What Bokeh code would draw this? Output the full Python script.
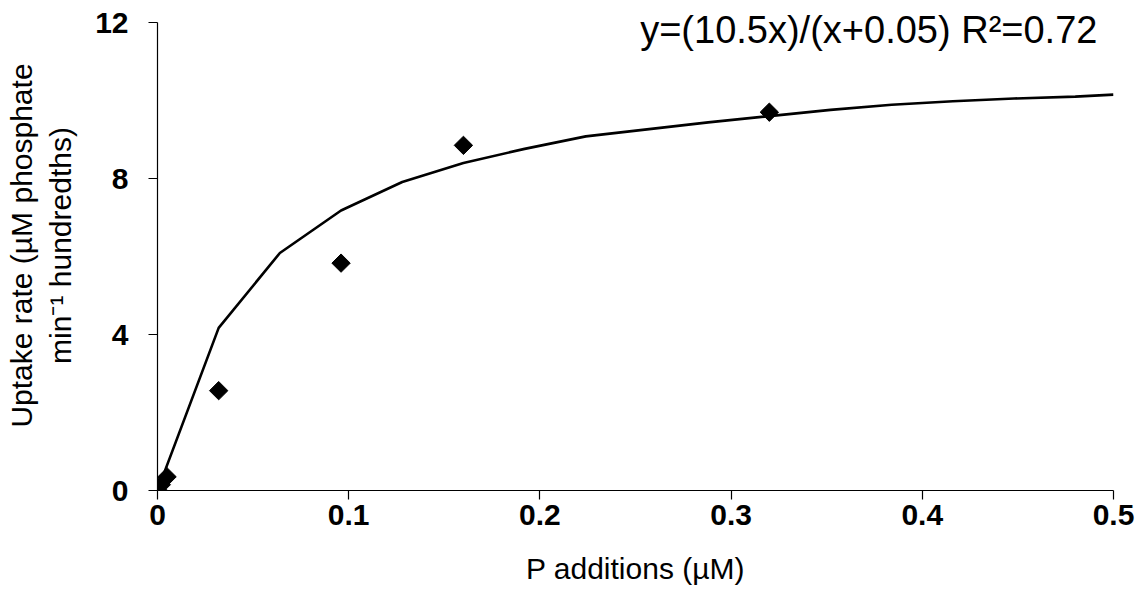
import numpy as np
from bokeh.plotting import figure
from bokeh.models import Range1d, FixedTicker, Label
from bokeh.embed import file_html
from bokeh.resources import INLINE

# Observed data points
p_add = [0.0, 0.002, 0.005, 0.032, 0.096, 0.160, 0.320]
uptake = [0.02, 0.15, 0.35, 2.56, 5.83, 8.85, 9.70]

# Fitted curve vertices
fit_x = [0, 0.032, 0.064, 0.096, 0.128, 0.160, 0.192, 0.224, 0.256, 0.288,
         0.320, 0.352, 0.384, 0.416, 0.448, 0.480, 0.500]
fit_y = [0, 4.17, 6.09, 7.18, 7.91, 8.40, 8.76, 9.08, 9.26, 9.44,
         9.60, 9.76, 9.89, 9.98, 10.05, 10.10, 10.15]

x_ticks = [0, 0.1, 0.2, 0.3, 0.4, 0.5]
x_tick_labels = {0: "0", 0.1: "0.1", 0.2: "0.2", 0.3: "0.3", 0.4: "0.4", 0.5: "0.5"}
y_ticks = [0, 4, 8, 12]
equation = "y=(10.5x)/(x+0.05) R\u00b2=0.72"

FONT = "Liberation Sans"

# frame spans 0..490 px vertically; y=12 sits 22 px below the top edge
y_top = 12 + 22 / 39.0

p = figure(width=1144, height=601, output_backend="svg", toolbar_location=None,
           x_range=Range1d(0, 0.5), y_range=Range1d(0, y_top),
           min_border_left=157, min_border_right=31, min_border_top=0,
           min_border_bottom=111)
p.outline_line_color = None
p.xgrid.visible = False
p.ygrid.visible = False
p.background_fill_color = "white"
p.border_fill_color = "white"

p.line(fit_x, fit_y, line_color="black", line_width=2.6)
p.scatter(p_add, uptake, marker="square", size=13, angle=np.pi / 4,
          fill_color="black", line_color="black")

for ax in (p.xaxis[0], p.yaxis[0]):
    ax.axis_line_color = "black"
    ax.axis_line_width = 1.2
    ax.major_tick_line_color = "black"
    ax.major_tick_line_width = 1.2
    ax.minor_tick_line_color = None
    ax.major_tick_in = 0
    ax.major_tick_out = 9
    ax.major_label_text_font = FONT
    ax.major_label_text_font_style = "bold"
    ax.major_label_text_font_size = "30px"
    ax.major_label_text_color = "black"
    ax.axis_label_text_font = FONT
    ax.axis_label_text_font_style = "normal"
    ax.axis_label_text_font_size = "30px"
    ax.axis_label_text_color = "black"

p.xaxis.ticker = FixedTicker(ticks=x_ticks)
p.xaxis.major_label_overrides = x_tick_labels
p.xaxis.major_label_standoff = 5
p.xaxis.axis_label = "P additions (\u00b5M)"
p.xaxis.axis_label_standoff = 24

p.yaxis.ticker = FixedTicker(ticks=y_ticks)
p.yaxis.bounds = (0, 12)
p.yaxis.major_label_standoff = 20
p.yaxis.axis_label = "Uptake rate (\u00b5M phosphate\nmin\u207b\u00b9 hundredths)"
p.yaxis.axis_label_standoff = 15

eq = Label(x=0.4916, y=11.8, text=equation, text_align="right",
           text_baseline="alphabetic", text_font=FONT, text_font_size="38px",
           text_color="black")
p.add_layout(eq)

open("out.html", "w").write(file_html(p, INLINE))
